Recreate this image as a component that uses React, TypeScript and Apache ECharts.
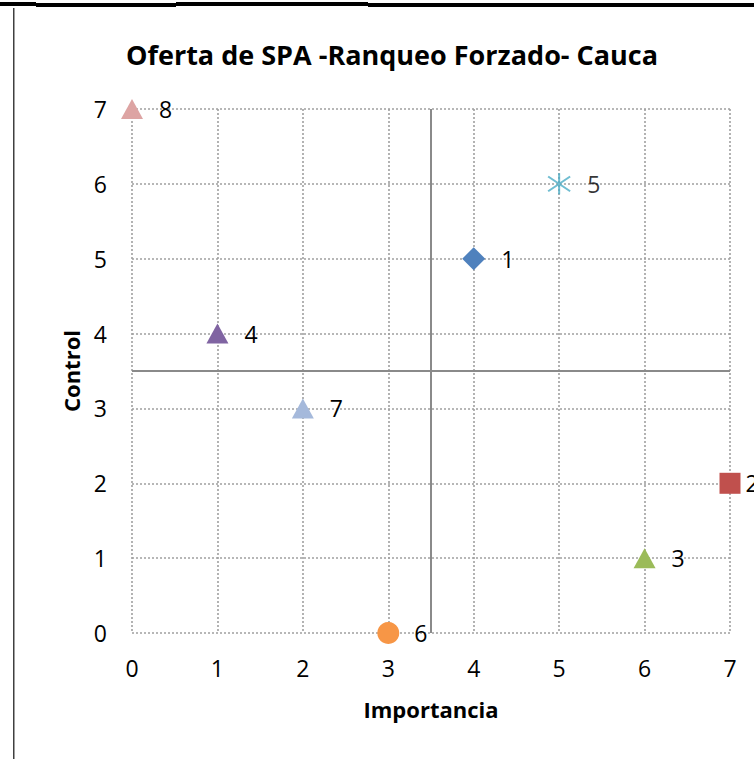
import React, { useEffect, useRef } from "react";
import * as echarts from "echarts";

const pointLabels = ["1", "2", "3", "4", "5", "6", "7", "8"];
const importancia = [4, 7, 6, 1, 5, 3, 2, 0];
const control = [5, 2, 1, 4, 6, 0, 3, 7];
const axisTicks = [0, 1, 2, 3, 4, 5, 6, 7];
const quadrantSplit = 3.5;

const pointStyles = [
  { symbol: "diamond", color: "#4F81BD", size: [23, 23], dist: 16 },
  { symbol: "rect", color: "#C0504D", size: [21, 21], dist: 5 },
  { symbol: "triangle", color: "#9BBB59", size: [22, 20], dist: 16 },
  { symbol: "triangle", color: "#8064A2", size: [22, 20], dist: 16 },
  { symbol: "path://M10 0 L10 20 M1 3 L19 17 M19 3 L1 17", color: "#4BACC6", size: [22, 21], stroke: true, dist: 16 },
  { symbol: "circle", color: "#F79646", size: [22, 22], dist: 15 },
  { symbol: "triangle", color: "#A5B9DB", size: [22, 20], dist: 16 },
  { symbol: "triangle", color: "#DDA4A3", size: [22, 20], dist: 16 },
];

const FONT = "'Open Sans', 'Noto Sans', sans-serif";

export default function App() {
  const ref = useRef<HTMLDivElement>(null);
  useEffect(() => {
    if (!ref.current) return;
    const chart = echarts.init(ref.current, undefined, { renderer: "svg" });
    const series: any[] = pointLabels.map((name, i) => {
      const st: any = pointStyles[i];
      return {
        type: "scatter",
        name,
        symbol: st.symbol,
        symbolSize: st.size,
        z: 3,
        itemStyle: st.stroke
          ? { color: "rgba(0,0,0,0)", borderColor: st.color, borderWidth: 2 }
          : { color: st.color, opacity: 1 },
        label: {
          show: true,
          position: "right",
          distance: st.dist,
          formatter: "{b}",
          color: "#000",
          fontSize: 23,
          fontFamily: FONT,
        },
        labelLayout: { hideOverlap: false },
        data: [{ value: [importancia[i], control[i]], name }],
      };
    });
    series.push({
      type: "scatter",
      data: [],
      z: 1,
      markLine: {
        symbol: "none",
        silent: true,
        label: { show: false },
        lineStyle: { color: "#8A8A8A", width: 2, type: "solid" },
        data: [{ xAxis: quadrantSplit }, { yAxis: quadrantSplit }],
      },
    });
    chart.setOption({
      animation: false,
      backgroundColor: "#fff",
      title: {
        text: "Oferta de SPA -Ranqueo Forzado- Cauca",
        left: 387,
        top: 36,
        textAlign: "center",
        textStyle: { fontFamily: FONT, fontWeight: "bold", fontSize: 27, color: "#000" },
      },
      grid: { left: 132, right: 24, top: 109, bottom: 126 },
      xAxis: {
        type: "value",
        min: axisTicks[0],
        max: axisTicks[axisTicks.length - 1],
        interval: 1,
        name: "Importancia",
        nameLocation: "middle",
        nameGap: 65,
        nameTextStyle: { fontFamily: FONT, fontWeight: "bold", fontSize: 22, color: "#000" },
        axisLine: { show: false },
        axisTick: { show: false },
        axisLabel: { fontFamily: FONT, fontSize: 23, color: "#000", margin: 23 },
        splitLine: { show: true, lineStyle: { color: "#A0A0A0", type: [2, 2], width: 1.6 } },
      },
      yAxis: {
        type: "value",
        min: axisTicks[0],
        max: axisTicks[axisTicks.length - 1],
        interval: 1,
        name: "Control",
        nameLocation: "middle",
        nameGap: 50,
        nameRotate: 90,
        nameTextStyle: { fontFamily: FONT, fontWeight: "bold", fontSize: 22, color: "#000" },
        axisLine: { show: false },
        axisTick: { show: false },
        axisLabel: { fontFamily: FONT, fontSize: 23, color: "#000", margin: 25 },
        splitLine: { show: true, lineStyle: { color: "#A0A0A0", type: [2, 2], width: 1.6 } },
      },
      graphic: [
        { type: "rect", shape: { x: 0, y: 2, width: 36, height: 4 }, style: { fill: "#000" } },
        { type: "rect", shape: { x: 36, y: 3, width: 140, height: 4 }, style: { fill: "#000" } },
        { type: "rect", shape: { x: 176, y: 2, width: 192, height: 4 }, style: { fill: "#000" } },
        { type: "rect", shape: { x: 368, y: 3, width: 386, height: 4 }, style: { fill: "#000" } },
        { type: "rect", shape: { x: 13, y: 8, width: 1.5, height: 751 }, style: { fill: "#404040" } },
      ],
      series,
    });
    return () => chart.dispose();
  }, []);
  return (
    <div
      ref={ref}
      style={{ position: "fixed", left: 0, top: 0, width: 754, height: 759 }}
    />
  );
}
